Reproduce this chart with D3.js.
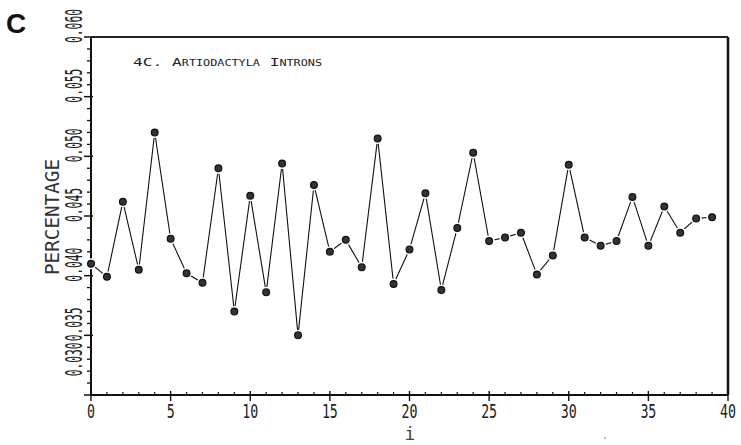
<!DOCTYPE html>
<html><head><meta charset="utf-8">
<script src="https://cdn.jsdelivr.net/npm/d3@7"></script>
<style>html,body{margin:0;padding:0;background:#fff;}</style>
</head><body>
<script>
const positions = d3.range(0, 40);
const percentage = [0.0410,0.0399,0.0462,0.0405,0.0520,0.0431,0.0402,0.0394,0.0490,0.0370,
  0.0467,0.0386,0.0494,0.0350,0.0476,0.0420,0.0430,0.0407,0.0515,0.0393,
  0.0422,0.0469,0.0388,0.0440,0.0503,0.0429,0.0432,0.0436,0.0401,0.0417,
  0.0493,0.0432,0.0425,0.0429,0.0466,0.0425,0.0458,0.0436,0.0448,0.0449];
const xTickValues = [0,5,10,15,20,25,30,35,40];
const yTickValues = [0.030,0.035,0.040,0.045,0.050,0.055,0.060];
const yTickLabels = ["0.030","0.035","0.040","0.045","0.050","0.055","0.060"];
const titleText = "4C. Artiodactyla Introns";
const xTitle = "i";
const yTitle = "PERCENTAGE";
const panelLabel = "C";

const W = 741, H = 445;
const L = 91, R = 728, T = 37, B = 395;
const svg = d3.select("body").append("svg").attr("width", W).attr("height", H)
  .style("background", "#fff");

const x = d3.scaleLinear().domain([0, 40]).range([L, R]);
const y = d3.scaleLinear().domain([0.030, 0.060]).range([B, T]);
const mono = "'DejaVu Sans Mono', monospace";

// minor ticks
const yMinor = d3.range(31, 60).map(v => v / 1000).filter(v => Math.round(v*1000) % 5 !== 0);
svg.append("g").selectAll("line").data(yMinor).join("line")
  .attr("x1", L - 4).attr("x2", L).attr("y1", d => y(d)).attr("y2", d => y(d))
  .attr("stroke", "#111").attr("stroke-width", 1.3);
svg.append("g").selectAll("line").data(yTickValues).join("line")
  .attr("x1", L - 7).attr("x2", L + 2).attr("y1", d => y(d)).attr("y2", d => y(d))
  .attr("stroke", "#111").attr("stroke-width", 1.5);

const xMinor = d3.range(1, 40).filter(v => v % 5 !== 0);
svg.append("g").selectAll("line").data(xMinor).join("line")
  .attr("x1", d => x(d)).attr("x2", d => x(d)).attr("y1", B - 3).attr("y2", B)
  .attr("stroke", "#111").attr("stroke-width", 1.2);
svg.append("g").selectAll("line").data(xTickValues).join("line")
  .attr("x1", d => x(d)).attr("x2", d => x(d)).attr("y1", B - 4).attr("y2", B + 6)
  .attr("stroke", "#111").attr("stroke-width", 1.4);

// frame
svg.append("line").attr("x1", L).attr("x2", R).attr("y1", T).attr("y2", T).attr("stroke", "#222").attr("stroke-width", 1.8);
svg.append("line").attr("x1", L).attr("x2", R).attr("y1", B).attr("y2", B).attr("stroke", "#111").attr("stroke-width", 2);
svg.append("line").attr("x1", L).attr("x2", L).attr("y1", T).attr("y2", B).attr("stroke", "#111").attr("stroke-width", 2);
svg.append("line").attr("x1", R).attr("x2", R).attr("y1", T).attr("y2", B).attr("stroke", "#111").attr("stroke-width", 2.5);

// tick labels
svg.append("g").selectAll("text").data(xTickValues).join("text")
  .attr("x", d => x(d)).attr("y", 418).attr("text-anchor", "middle")
  .attr("font-family", mono).attr("font-size", 19).attr("fill", "#222")
  .attr("textLength", d => String(d).length * 8).attr("lengthAdjust", "spacingAndGlyphs")
  .text(d => d);

// y labels: drawn ~11px above their ticks; the bottom label sits right under the 0.035 one
const yLabelPos = d => d === 0.030 ? y(0.035) - 11 + 35 : y(d) - 11;
svg.append("g").selectAll("text").data(yTickValues).join("text")
  .attr("transform", d => `translate(82,${yLabelPos(d)}) rotate(-90)`)
  .attr("text-anchor", "middle")
  .attr("font-family", mono).attr("font-size", 23).attr("fill", "#222")
  .attr("textLength", 34).attr("lengthAdjust", "spacingAndGlyphs")
  .text((d, i) => yTickLabels[i]);

// axis titles
svg.append("text").attr("transform", "translate(59,217) rotate(-90)")
  .attr("text-anchor", "middle").attr("font-family", mono).attr("font-size", 20).attr("fill", "#333")
  .attr("textLength", 116).attr("lengthAdjust", "spacingAndGlyphs").text(yTitle);
svg.append("text").attr("x", 410).attr("y", 440).attr("text-anchor", "middle")
  .attr("font-family", mono).attr("font-size", 18).attr("fill", "#444").text(xTitle);
svg.append("circle").attr("cx", 605).attr("cy", 438).attr("r", 0.8).attr("fill", "#666");

// panel label
svg.append("text").attr("x", 6).attr("y", 33).attr("font-family", "'Liberation Sans', Arial, sans-serif")
  .attr("font-weight", "bold").attr("font-size", 28).attr("fill", "#111").text(panelLabel);

// chart title
svg.append("text").attr("x", 133).attr("y", 66).attr("font-family", mono).attr("font-size", 11)
  .style("font-variant", "small-caps").attr("fill", "#222")
  .attr("textLength", 189).attr("lengthAdjust", "spacingAndGlyphs").text(titleText);

// data line
const pts = positions.map((p, i) => [p, percentage[i]]);
svg.append("path").datum(pts)
  .attr("d", d3.line().x(d => x(d[0])).y(d => y(d[1])))
  .attr("fill", "none").attr("stroke", "#111").attr("stroke-width", 1.1);

const g = svg.append("g");
g.selectAll("circle.halo").data(pts).join("circle").attr("class", "halo")
  .attr("cx", d => x(d[0])).attr("cy", d => y(d[1])).attr("r", 5.5).attr("fill", "#fff");
g.selectAll("circle.dot").data(pts).join("circle").attr("class", "dot")
  .attr("cx", d => x(d[0])).attr("cy", d => y(d[1])).attr("r", 3.4)
  .attr("fill", "#333").attr("stroke", "#111").attr("stroke-width", 1.2);
</script>
</body></html>
